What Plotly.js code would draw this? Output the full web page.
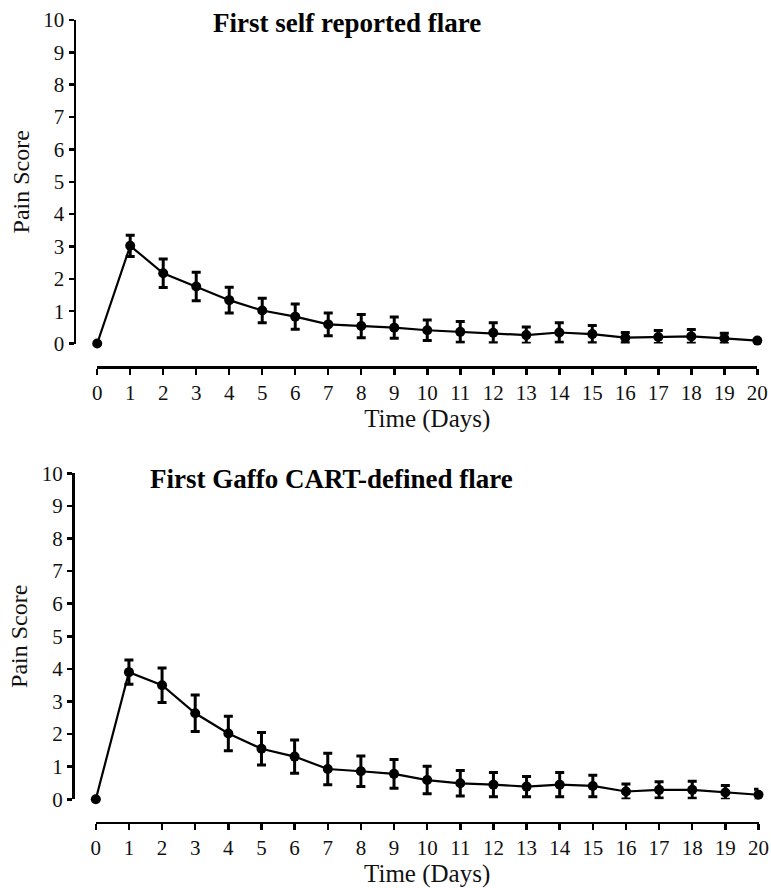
<!DOCTYPE html>
<html>
<head>
<meta charset="utf-8">
<script src="https://cdn.plot.ly/plotly-3.0.1.min.js"></script>
<style>html,body{margin:0;padding:0;background:#fff;}</style>
</head>
<body>
<div id="chart" style="width:771px;height:888px;"></div>
<script>
// Data
const days = [0,1,2,3,4,5,6,7,8,9,10,11,12,13,14,15,16,17,18,19,20];
const dayTickLabels = ["0","1","2","3","4","5","6","7","8","9","10","11","12","13","14","15","16","17","18","19","20"];
const selfReportedMean = [0,3.02,2.17,1.76,1.34,1.02,0.83,0.59,0.54,0.49,0.41,0.36,0.33,0.26,0.34,0.29,0.18,0.20,0.22,0.16,0.09];
const selfReportedErr  = [0,0.33,0.44,0.44,0.40,0.38,0.39,0.35,0.36,0.33,0.32,0.32,0.31,0.25,0.30,0.27,0.16,0.20,0.21,0.16,0];
const gaffoMean = [0,3.90,3.50,2.64,2.02,1.55,1.31,0.93,0.86,0.78,0.59,0.49,0.45,0.39,0.45,0.41,0.24,0.29,0.29,0.21,0.14];
const gaffoErr  = [0,0.37,0.53,0.56,0.53,0.50,0.51,0.48,0.47,0.44,0.42,0.39,0.37,0.31,0.37,0.33,0.23,0.25,0.26,0.21,0.17];
const painTicks = [0,1,2,3,4,5,6,7,8,9,10];
const titleTop = "First self reported flare";
const titleBottom = "First Gaffo CART-defined flare";
const xTitle = "Time (Days)";
const yTitle = "Pain Score";

const FONT = "Liberation Serif, Times New Roman, serif";
const W = 771, H = 888;

function trace(y, err, xa, ya, name){
  return {
    x: days, y: y, type: 'scatter', mode: 'lines+markers', name: name,
    xaxis: xa, yaxis: ya, cliponaxis: false,
    line: {color: '#000', width: 2.2},
    marker: {color: '#000', size: 10},
    error_y: {type: 'data', array: err, visible: true, color: '#000', thickness: 3, width: 4.5},
    showlegend: false
  };
}

const data = [
  trace(selfReportedMean, selfReportedErr, 'x', 'y', titleTop),
  trace(gaffoMean, gaffoErr, 'x2', 'y2', titleBottom)
];

function xAxis(domain, pos){
  return {
    domain: domain, range: [0, 20], anchor: 'free', position: pos,
    tickvals: days, ticktext: dayTickLabels,
    ticks: 'outside', ticklen: 6, tickwidth: 2.5, tickcolor: '#000',
    showline: true, linecolor: '#000', linewidth: 2.5,
    showgrid: false, zeroline: false, fixedrange: true,
    tickfont: {family: FONT, size: 21, color: '#111'},
    title: {text: xTitle, font: {family: FONT, size: 25, color: '#111'}, standoff: 4}
  };
}
function yAxis(domain, pos){
  return {
    domain: domain, range: [0, 10], anchor: 'free', position: pos,
    tickvals: painTicks, ticktext: painTicks.map(String),
    ticks: 'outside', ticklen: 5, tickwidth: 2.5, tickcolor: '#000',
    showline: true, linecolor: '#000', linewidth: 2.5,
    showgrid: false, zeroline: false, fixedrange: true,
    tickfont: {family: FONT, size: 21, color: '#111'},
    title: {text: yTitle, font: {family: FONT, size: 24, color: '#111'}, standoff: 6}
  };
}

const layout = {
  width: W, height: H,
  margin: {l: 0, r: 0, t: 0, b: 0},
  paper_bgcolor: '#fff', plot_bgcolor: '#fff',
  showlegend: false,
  xaxis: xAxis([97.2/W, 757.3/W], 1 - 367/H),
  yaxis: yAxis([1 - 343.5/H, 1 - 20/H], 74.5/W),
  xaxis2: xAxis([95.8/W, 758.5/W], 1 - 822.7/H),
  yaxis2: yAxis([1 - 799.3/H, 1 - 473.3/H], 73/W),
  annotations: [
    {text: '<b>' + titleTop + '</b>', xref: 'paper', yref: 'paper', x: 211/W, y: 1 - 23/H,
     xanchor: 'left', yanchor: 'middle', showarrow: false, font: {family: FONT, size: 27, color: '#000'}},
    {text: '<b>' + titleBottom + '</b>', xref: 'paper', yref: 'paper', x: 148/W, y: 1 - 479/H,
     xanchor: 'left', yanchor: 'middle', showarrow: false, font: {family: FONT, size: 27, color: '#000'}}
  ]
};

Plotly.newPlot('chart', data, layout, {displayModeBar: false, staticPlot: true});
</script>
</body>
</html>
